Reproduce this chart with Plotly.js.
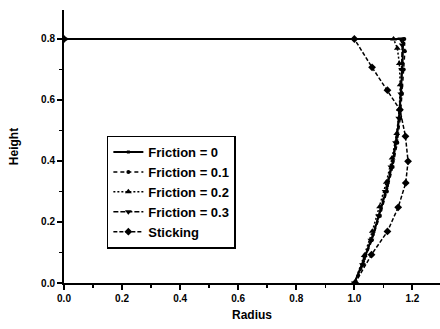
<!DOCTYPE html>
<html>
<head>
<meta charset="utf-8">
<script src="https://cdn.plot.ly/plotly-3.0.1.min.js"></script>
<style>
  html, body { margin: 0; padding: 0; background: #fff; }
  #chart { width: 440px; height: 329px; }
</style>
</head>
<body>
<div id="chart"></div>
<script>
// Deformed billet profiles: radius vs height for each friction condition
const seriesNames = ["Friction = 0", "Friction = 0.1", "Friction = 0.2", "Friction = 0.3", "Sticking"];

const radiusF0 = [0, 1.168, 1.166, 1.162, 1.156, 1.147, 1.133, 1.114, 1.091, 1.065, 1.034, 1.0];
const heightF0 = [0.8, 0.8, 0.72, 0.64, 0.56, 0.48, 0.40, 0.32, 0.24, 0.16, 0.08, 0.0];

const radiusF01 = [0, 1.172, 1.174, 1.170, 1.164, 1.158, 1.148, 1.132, 1.112, 1.088, 1.060, 1.030, 1.004];
const heightF01 = [0.8, 0.8, 0.76, 0.70, 0.62, 0.54, 0.46, 0.38, 0.30, 0.22, 0.14, 0.06, 0.0];

const radiusF02 = [0, 1.135, 1.148, 1.155, 1.158, 1.155, 1.146, 1.130, 1.110, 1.087, 1.062, 1.034, 1.0];
const heightF02 = [0.8, 0.8, 0.77, 0.72, 0.65, 0.57, 0.49, 0.41, 0.33, 0.25, 0.17, 0.09, 0.0];

const radiusF03 = [0, 1.160, 1.165, 1.163, 1.160, 1.153, 1.142, 1.126, 1.106, 1.083, 1.057, 1.028, 1.0];
const heightF03 = [0.8, 0.8, 0.78, 0.70, 0.62, 0.54, 0.46, 0.38, 0.30, 0.22, 0.14, 0.06, 0.0];

const radiusStick = [0, 1.0, 1.061, 1.114, 1.157, 1.176, 1.185, 1.177, 1.151, 1.114, 1.059, 1.003];
const heightStick = [0.8, 0.8, 0.707, 0.632, 0.568, 0.481, 0.399, 0.328, 0.248, 0.169, 0.093, 0.0];

const xTickVals = [0, 0.2, 0.4, 0.6, 0.8, 1.0, 1.2];
const yTickVals = [0, 0.2, 0.4, 0.6, 0.8];

const FONT = "Arial, 'Liberation Sans', sans-serif";

function trace(name, x, y, dash, symbol, msize, lw) {
  return {
    type: "scatter", mode: "lines+markers", name: name, x: x, y: y,
    line: { color: "#000", width: lw, dash: dash },
    marker: { color: "#000", symbol: symbol, size: msize }
  };
}

const data = [
  trace(seriesNames[0], radiusF0, heightF0, "solid", "square", 3, 2),
  trace(seriesNames[1], radiusF01, heightF01, "4px,3px", "circle", 4, 1.5),
  trace(seriesNames[2], radiusF02, heightF02, "2px,2px", "triangle-up", 6, 1.5),
  trace(seriesNames[3], radiusF03, heightF03, "5px,2px", "triangle-down", 6, 1.5),
  trace(seriesNames[4], radiusStick, heightStick, "4px,2px", "diamond", 6, 1.5)
];

const axisCommon = {
  showline: true, linecolor: "#000", linewidth: 2,
  ticks: "outside", ticklen: 5, tickwidth: 2, tickcolor: "#000",
  showgrid: false, zeroline: false, mirror: false,
  tickformat: ".1f",
  tickfont: { family: FONT, size: 10, color: "#000", weight: "bold" },
  minor: { ticks: "outside", ticklen: 3, tickwidth: 1.5, tickcolor: "#000", dtick: 0.1, showgrid: false }
};

const layout = {
  width: 440, height: 329,
  margin: { l: 64, r: 0, t: 10, b: 46 },
  paper_bgcolor: "#fff", plot_bgcolor: "#fff",
  showlegend: true,
  legend: {
    x: 0.114, y: 0.54, xanchor: "left", yanchor: "top",
    bordercolor: "#000", borderwidth: 1.5, bgcolor: "#fff",
    font: { family: FONT, size: 13, color: "#000", weight: "bold" },
    tracegroupgap: 0
  },
  xaxis: Object.assign({}, axisCommon, {
    range: [0, 1.295], tickvals: xTickVals,
    title: { text: "Radius", font: { family: FONT, size: 12, color: "#000", weight: "bold" }, standoff: 8 }
  }),
  yaxis: Object.assign({}, axisCommon, {
    range: [0, 0.895], tickvals: yTickVals,
    title: { text: "Height", font: { family: FONT, size: 12, color: "#000", weight: "bold" }, standoff: 20 }
  })
};

Plotly.newPlot("chart", data, layout, { displayModeBar: false, staticPlot: true });
</script>
</body>
</html>
